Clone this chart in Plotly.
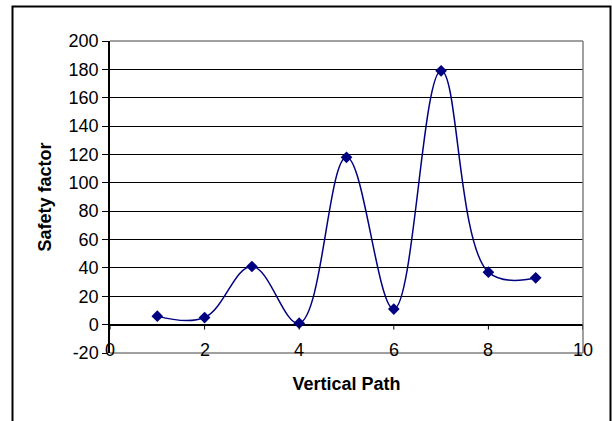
import plotly.graph_objects as go

# Data
path = [1, 2, 3, 4, 5, 6, 7, 8, 9]
safety = [6, 5, 41, 1, 118, 11, 179, 37, 33]
x_ticks = [0, 2, 4, 6, 8, 10]
y_ticks = [-20, 0, 20, 40, 60, 80, 100, 120, 140, 160, 180, 200]

W, H = 612, 421
ML, MR, MT, MB = 110, 29, 41, 68
PW, PH = W - ML - MR, H - MT - MB

def px_x(p):
    return (p - ML) / PW

def px_y(p):
    return (H - MB - p) / PH

NAVY = "#000080"
FONT = "Liberation Sans, Arial, sans-serif"

fig = go.Figure()
fig.add_trace(go.Scatter(
    x=path, y=safety, mode="lines+markers",
    line=dict(color=NAVY, width=1.5, shape="spline", smoothing=1.1),
    marker=dict(symbol="diamond", size=9, color=NAVY),
    showlegend=False, hoverinfo="skip",
))

shapes = []
# plot area border (gray): top, right, bottom
for (x0, y0, x1, y1) in [(0, 1, 1, 1), (1, 0, 1, 1), (0, 0, 1, 0)]:
    shapes.append(dict(type="line", xref="x domain", yref="y domain",
                       x0=x0, y0=y0, x1=x1, y1=y1,
                       line=dict(color="#808080", width=1.5), layer="above"))
# x-axis tick marks at y = 0
for t in x_ticks:
    shapes.append(dict(type="line", xref="x", yref="y", x0=t, x1=t, y0=0, y1=-3.5,
                       line=dict(color="#000000", width=1), layer="above"))
# outer chart border
shapes.append(dict(type="rect", xref="paper", yref="paper",
                   x0=px_x(12.5), x1=px_x(610.5), y0=px_y(430), y1=px_y(6.5),
                   line=dict(color="#000000", width=2)))

annotations = []
for t in x_ticks:
    annotations.append(dict(x=t, y=-20, xref="x", yref="y", text=str(t),
                            showarrow=False, xanchor="center", yanchor="middle",
                            yshift=3, font=dict(family=FONT, size=18, color="#000")))

fig.update_layout(
    width=W, height=H,
    margin=dict(l=ML, r=MR, t=MT, b=MB),
    paper_bgcolor="white", plot_bgcolor="white",
    font=dict(family=FONT, size=18, color="#000"),
    shapes=shapes, annotations=annotations,
    xaxis=dict(range=[0, 10], showgrid=False, zeroline=False, showline=False,
               showticklabels=False, ticks="", fixedrange=True,
               title=dict(text="<b>Vertical Path</b>", font=dict(family=FONT, size=18),
                          standoff=24)),
    yaxis=dict(range=[-20, 200], tickvals=y_ticks, ticktext=[str(v) for v in y_ticks],
               showgrid=True, gridcolor="#000000", gridwidth=1,
               zeroline=True, zerolinecolor="#000000", zerolinewidth=1.5,
               showline=True, linecolor="#000000", linewidth=1.5,
               ticks="outside", ticklen=6, tickcolor="#000000",
               tickfont=dict(family=FONT, size=18), fixedrange=True,
               title=dict(text="<b>Safety factor</b>", font=dict(family=FONT, size=18),
                          standoff=12)),
)

fig.write_html("out.html")
